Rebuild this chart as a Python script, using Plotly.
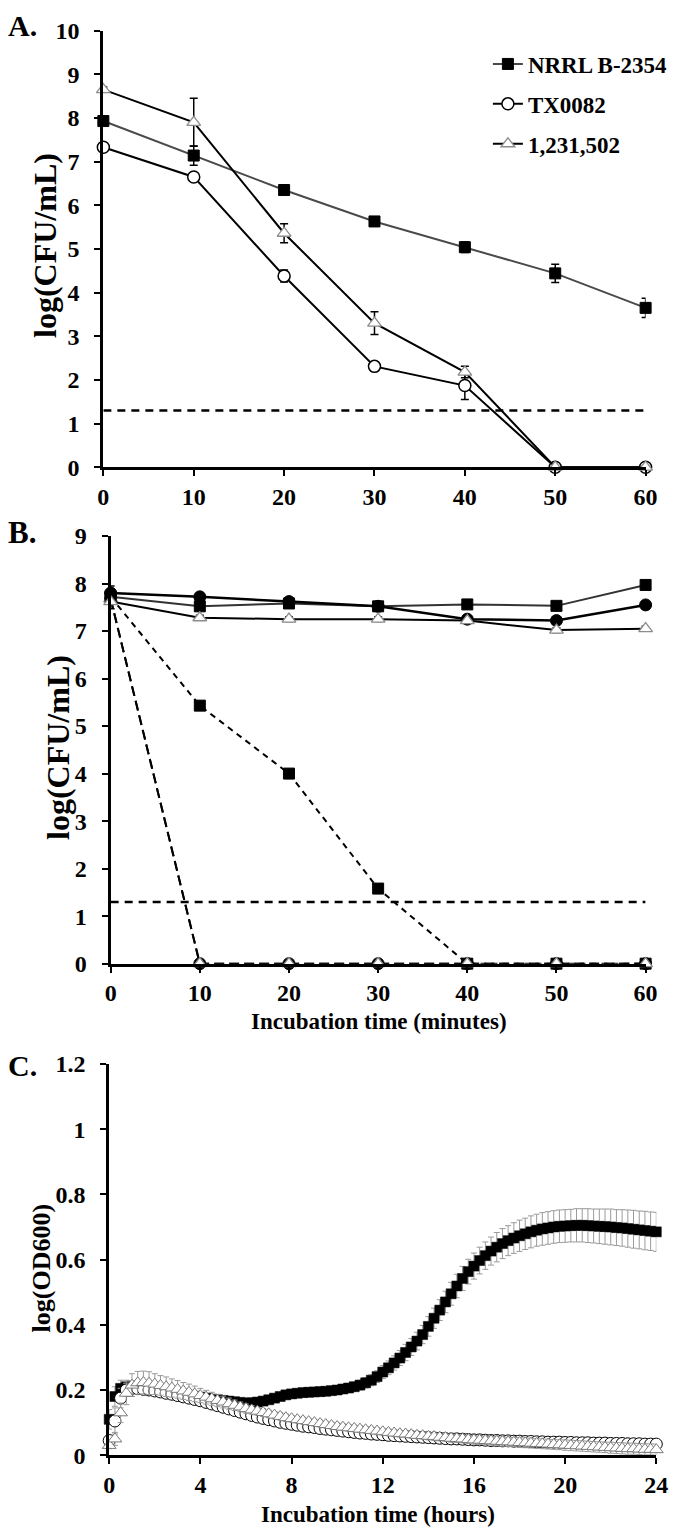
import plotly.graph_objects as go

W, H = 680, 1538
FONT = "Liberation Serif"

# ---------------- Panel A data ----------------
a_time = [0, 10, 20, 30, 40, 50, 60]
a_nrrl = [7.93, 7.14, 6.35, 5.63, 5.04, 4.44, 3.65]
a_nrrl_err = [0.08, 0.22, 0.06, 0.06, 0.12, 0.21, 0.22]
a_tx = [7.33, 6.65, 4.38, 2.31, 1.87, 0, 0]
a_tx_err = [0.08, 0.06, 0.14, 0.1, 0.32, 0, 0]
a_iso = [8.65, 7.9, 5.36, 3.3, 2.18, 0, 0]
a_iso_err = [0.06, 0.55, 0.22, 0.26, 0.13, 0, 0]
detection_limit = 1.3
limit_x = [0, 60]

series_names = ["NRRL B-2354", "TX0082", "1,231,502"]

# ---------------- Panel B data ----------------
b_time = [0, 10, 20, 30, 40, 50, 60]
b_nrrl_ctrl = [7.72, 7.52, 7.58, 7.52, 7.56, 7.53, 7.97]
b_tx_ctrl = [7.8, 7.72, 7.62, 7.52, 7.25, 7.22, 7.55]
b_iso_ctrl = [7.62, 7.28, 7.25, 7.25, 7.22, 7.02, 7.05]
b_ctrl_err = [0.15, 0.05, 0.05, 0.05, 0.06, 0.05, 0.05]
b_nrrl_trt = [7.72, 5.43, 4.0, 1.58, 0, 0, 0]
b_tx_trt = [7.68, 0, 0, 0, 0, 0, 0]
b_iso_trt = [7.68, 0, 0, 0, 0, 0, 0]

# ---------------- Panel C data ----------------
c_hours = [0, 0.25, 0.5, 0.75, 1, 1.25, 1.5, 1.75, 2, 2.25, 2.5, 2.75,
           3, 3.25, 3.5, 3.75, 4, 4.25, 4.5, 4.75, 5, 5.25, 5.5, 5.75,
           6, 6.25, 6.5, 6.75, 7, 7.25, 7.5, 7.75, 8, 8.25, 8.5, 8.75,
           9, 9.25, 9.5, 9.75, 10, 10.25, 10.5, 10.75, 11, 11.25, 11.5, 11.75,
           12, 12.25, 12.5, 12.75, 13, 13.25, 13.5, 13.75, 14, 14.25, 14.5, 14.75,
           15, 15.25, 15.5, 15.75, 16, 16.25, 16.5, 16.75, 17, 17.25, 17.5, 17.75,
           18, 18.25, 18.5, 18.75, 19, 19.25, 19.5, 19.75, 20, 20.25, 20.5, 20.75,
           21, 21.25, 21.5, 21.75, 22, 22.25, 22.5, 22.75, 23, 23.25, 23.5, 23.75, 24]

c_nrrl = [0.11, 0.18, 0.205, 0.21,
          0.212, 0.21, 0.207, 0.205,
          0.202, 0.2, 0.197, 0.194,
          0.19, 0.187, 0.184, 0.181,
          0.178, 0.175, 0.172, 0.17,
          0.168, 0.166, 0.164, 0.162,
          0.16, 0.161, 0.163, 0.166,
          0.17, 0.175, 0.18, 0.185,
          0.188, 0.19, 0.192, 0.193,
          0.194, 0.195, 0.196, 0.198,
          0.2, 0.203, 0.206, 0.21,
          0.215, 0.222, 0.23, 0.241,
          0.255, 0.268, 0.283, 0.298,
          0.315, 0.332, 0.35, 0.37,
          0.395, 0.42, 0.445, 0.47,
          0.495, 0.519, 0.542, 0.563,
          0.58, 0.597, 0.612, 0.626,
          0.638, 0.649, 0.658, 0.666,
          0.673, 0.679, 0.685, 0.69,
          0.694, 0.697, 0.7, 0.702,
          0.703, 0.704, 0.705, 0.705,
          0.704, 0.703, 0.702, 0.701,
          0.7, 0.698, 0.697, 0.695,
          0.693, 0.691, 0.689, 0.687,
          0.685]
c_nrrl_err = [0.03, 0.03, 0.025, 0.02,
              0.015, 0.012, 0.01, 0.01,
              0.01, 0.01, 0.01, 0.01,
              0.01, 0.01, 0.01, 0.01,
              0.01, 0.01, 0.01, 0.01,
              0.01, 0.01, 0.01, 0.01,
              0.01, 0.01, 0.01, 0.01,
              0.01, 0.01, 0.01, 0.01,
              0.01, 0.01, 0.01, 0.01,
              0.011, 0.011, 0.012, 0.012,
              0.013, 0.013, 0.014, 0.014,
              0.015, 0.016, 0.017, 0.018,
              0.02, 0.021, 0.022, 0.023,
              0.025, 0.026, 0.027, 0.028,
              0.03, 0.031, 0.032, 0.033,
              0.035, 0.036, 0.037, 0.038,
              0.04, 0.041, 0.042, 0.043,
              0.045, 0.046, 0.046, 0.047,
              0.048, 0.048, 0.049, 0.049,
              0.05, 0.05, 0.05, 0.05,
              0.05, 0.05, 0.051, 0.051,
              0.052, 0.052, 0.053, 0.054,
              0.055, 0.055, 0.056, 0.057,
              0.058, 0.058, 0.059, 0.059,
              0.06]

c_tx = [0.045, 0.105, 0.175, 0.2,
        0.205, 0.204, 0.202, 0.2,
        0.197, 0.194, 0.19, 0.187,
        0.183, 0.179, 0.175, 0.171,
        0.167, 0.162, 0.157, 0.152,
        0.147, 0.142, 0.137, 0.132,
        0.127, 0.122, 0.117, 0.113,
        0.109, 0.105, 0.101, 0.098,
        0.095, 0.092, 0.089, 0.087,
        0.085, 0.082, 0.08, 0.078,
        0.076, 0.074, 0.072, 0.07,
        0.068, 0.067, 0.065, 0.064,
        0.063, 0.061, 0.06, 0.059,
        0.058, 0.057, 0.056, 0.055,
        0.054, 0.053, 0.052, 0.051,
        0.05, 0.05, 0.049, 0.048,
        0.047, 0.047, 0.046, 0.045,
        0.045, 0.044, 0.044, 0.043,
        0.043, 0.042, 0.042, 0.041,
        0.041, 0.04, 0.04, 0.04,
        0.039, 0.039, 0.038, 0.038,
        0.038, 0.037, 0.037, 0.037,
        0.036, 0.036, 0.036, 0.035,
        0.035, 0.035, 0.034, 0.034,
        0.034]
c_tx_err = [0.01, 0.04, 0.03, 0.02,
            0.015, 0.012, 0.01, 0.01,
            0.01, 0.01, 0.01, 0.01,
            0.01, 0.01, 0.01, 0.01,
            0.008, 0.008, 0.008, 0.008,
            0.008, 0.008, 0.008, 0.008,
            0.006, 0.006, 0.006, 0.006,
            0.006, 0.006, 0.006, 0.006,
            0.005, 0.005, 0.005, 0.005,
            0.005, 0.005, 0.005, 0.005,
            0.005, 0.005, 0.005, 0.005,
            0.005, 0.005, 0.005, 0.005,
            0.005, 0.005, 0.005, 0.005,
            0.005, 0.005, 0.005, 0.005,
            0.005, 0.005, 0.005, 0.005,
            0.005, 0.005, 0.005, 0.005,
            0.005, 0.005, 0.005, 0.005,
            0.005, 0.005, 0.005, 0.005,
            0.005, 0.005, 0.005, 0.005,
            0.005, 0.005, 0.005, 0.005,
            0.005, 0.005, 0.005, 0.005,
            0.005, 0.005, 0.005, 0.005,
            0.005, 0.005, 0.005, 0.005,
            0.005, 0.005, 0.005, 0.005,
            0.005]

c_iso = [0.03, 0.05, 0.13, 0.19,
         0.215, 0.222, 0.223, 0.221,
         0.218, 0.214, 0.21, 0.206,
         0.202, 0.197, 0.193, 0.188,
         0.183, 0.178, 0.173, 0.168,
         0.163, 0.158, 0.153, 0.148,
         0.143, 0.139, 0.135, 0.131,
         0.127, 0.123, 0.119, 0.115,
         0.112, 0.109, 0.106, 0.103,
         0.1, 0.097, 0.094, 0.091,
         0.088, 0.086, 0.084, 0.082,
         0.08, 0.078, 0.076, 0.074,
         0.072, 0.07, 0.068, 0.066,
         0.065, 0.063, 0.061, 0.06,
         0.058, 0.057, 0.055, 0.054,
         0.052, 0.051, 0.05, 0.048,
         0.047, 0.046, 0.045, 0.044,
         0.043, 0.042, 0.041, 0.04,
         0.039, 0.038, 0.037, 0.036,
         0.035, 0.034, 0.033, 0.032,
         0.031, 0.03, 0.029, 0.028,
         0.027, 0.026, 0.025, 0.024,
         0.023, 0.022, 0.021, 0.02,
         0.02, 0.019, 0.018, 0.018,
         0.017]
c_iso_err = [0.01, 0.02, 0.03, 0.035,
             0.035, 0.035, 0.035, 0.035,
             0.032, 0.03, 0.03, 0.028,
             0.027, 0.026, 0.025, 0.024,
             0.022, 0.021, 0.02, 0.019,
             0.018, 0.017, 0.016, 0.015,
             0.014, 0.013, 0.012, 0.012,
             0.011, 0.011, 0.011, 0.011,
             0.01, 0.01, 0.01, 0.01,
             0.01, 0.01, 0.01, 0.01,
             0.01, 0.01, 0.01, 0.01,
             0.01, 0.01, 0.01, 0.01,
             0.01, 0.01, 0.01, 0.01,
             0.01, 0.01, 0.01, 0.01,
             0.011, 0.011, 0.011, 0.011,
             0.012, 0.012, 0.012, 0.012,
             0.013, 0.013, 0.013, 0.013,
             0.014, 0.014, 0.014, 0.014,
             0.015, 0.015, 0.015, 0.015,
             0.015, 0.015, 0.015, 0.015,
             0.016, 0.016, 0.016, 0.016,
             0.016, 0.016, 0.016, 0.016,
             0.017, 0.017, 0.017, 0.017,
             0.017, 0.017, 0.017, 0.017,
             0.017]

# ---------------- helpers ----------------
def px_x(x):
    return x / W

def px_y(y):
    return 1 - y / H

BLACK = "#000000"
GRAY_LINE = "#4a4a4a"
TRI_EDGE = "#8c8c8c"

sq_marker = dict(symbol="square", size=11, color=BLACK, line=dict(color=BLACK, width=1))
circ_open = dict(symbol="circle", size=12, color="white", line=dict(color=BLACK, width=1.5))
circ_fill = dict(symbol="circle", size=12, color=BLACK, line=dict(color=BLACK, width=1))
tri_open = dict(symbol="triangle-up", size=12, color="white", line=dict(color=TRI_EDGE, width=1.3))


def err(arr, color=BLACK, thick=1.5, width=4):
    return dict(type="data", array=arr, visible=True, color=color, thickness=thick, width=width)


fig = go.Figure()

# ---------- Panel A ----------
fig.add_trace(go.Scatter(x=limit_x, y=[detection_limit, detection_limit], mode="lines",
                         line=dict(color=BLACK, width=2.5, dash="8px,6px"),
                         showlegend=False, xaxis="x", yaxis="y", hoverinfo="skip"))
fig.add_trace(go.Scatter(x=a_time, y=a_nrrl, name=series_names[0], mode="lines+markers",
                         line=dict(color=GRAY_LINE, width=2), marker=sq_marker,
                         error_y=err(a_nrrl_err), cliponaxis=False,
                         xaxis="x", yaxis="y", legendgroup="g1"))
fig.add_trace(go.Scatter(x=a_time, y=a_tx, name=series_names[1], mode="lines+markers",
                         line=dict(color=BLACK, width=2), marker=circ_open,
                         error_y=err(a_tx_err), cliponaxis=False,
                         xaxis="x", yaxis="y", legendgroup="g2"))
fig.add_trace(go.Scatter(x=a_time, y=a_iso, name=series_names[2], mode="lines+markers",
                         line=dict(color=BLACK, width=2), marker=tri_open,
                         error_y=err(a_iso_err), cliponaxis=False,
                         xaxis="x", yaxis="y", legendgroup="g3"))

# ---------- Panel B ----------
fig.add_trace(go.Scatter(x=limit_x, y=[detection_limit, detection_limit], mode="lines",
                         line=dict(color=BLACK, width=2.5, dash="8px,6px"),
                         showlegend=False, xaxis="x2", yaxis="y2", hoverinfo="skip"))
# treated (dashed)
fig.add_trace(go.Scatter(x=b_time, y=b_nrrl_trt, mode="lines+markers",
                         line=dict(color=BLACK, width=2, dash="6px,5px"), marker=sq_marker,
                         cliponaxis=False, showlegend=False, xaxis="x2", yaxis="y2"))
fig.add_trace(go.Scatter(x=b_time, y=b_tx_trt, mode="lines+markers",
                         line=dict(color=BLACK, width=2, dash="10px,5px"), marker=circ_fill,
                         cliponaxis=False, showlegend=False, xaxis="x2", yaxis="y2"))
fig.add_trace(go.Scatter(x=b_time, y=b_iso_trt, mode="lines+markers",
                         line=dict(color=BLACK, width=2, dash="10px,5px"), marker=tri_open,
                         cliponaxis=False, showlegend=False, xaxis="x2", yaxis="y2"))
# control (solid)
fig.add_trace(go.Scatter(x=b_time, y=b_nrrl_ctrl, mode="lines+markers",
                         line=dict(color="#333333", width=2), marker=sq_marker,
                         error_y=err(b_ctrl_err), cliponaxis=False,
                         showlegend=False, xaxis="x2", yaxis="y2"))
fig.add_trace(go.Scatter(x=b_time, y=b_tx_ctrl, mode="lines+markers",
                         line=dict(color=BLACK, width=2.5), marker=circ_fill,
                         error_y=err(b_ctrl_err), cliponaxis=False,
                         showlegend=False, xaxis="x2", yaxis="y2"))
fig.add_trace(go.Scatter(x=b_time, y=b_iso_ctrl, mode="lines+markers",
                         line=dict(color=BLACK, width=2), marker=tri_open,
                         error_y=err(b_ctrl_err), cliponaxis=False,
                         showlegend=False, xaxis="x2", yaxis="y2"))

# ---------- Panel C ----------
fig.add_trace(go.Scatter(x=c_hours, y=c_nrrl, mode="markers",
                         marker=dict(symbol="square", size=10, color=BLACK, line=dict(color=BLACK, width=0.5)),
                         error_y=err(c_nrrl_err, color="#9a9a9a", thick=1, width=3),
                         cliponaxis=False, showlegend=False, xaxis="x3", yaxis="y3"))
fig.add_trace(go.Scatter(x=c_hours, y=c_tx, mode="markers",
                         marker=dict(symbol="circle", size=12, color="white", line=dict(color=BLACK, width=1)),
                         error_y=err(c_tx_err, color="#9a9a9a", thick=1, width=3),
                         cliponaxis=False, showlegend=False, xaxis="x3", yaxis="y3"))
fig.add_trace(go.Scatter(x=c_hours, y=c_iso, mode="markers",
                         marker=dict(symbol="triangle-up", size=12, color="white", line=dict(color="#7a7a7a", width=1)),
                         error_y=err(c_iso_err, color="#9a9a9a", thick=1, width=3),
                         cliponaxis=False, showlegend=False, xaxis="x3", yaxis="y3"))

# ---------- axes ----------
tickfont = dict(family=FONT, size=24, color=BLACK, weight="bold")
axis_common = dict(showline=True, linecolor=BLACK, linewidth=3, ticks="outside", ticklen=6,
                   tickwidth=2, tickcolor=BLACK, showgrid=False, zeroline=False,
                   tickfont=tickfont, fixedrange=True)

fig.update_layout(
    xaxis=dict(domain=[px_x(100), px_x(657)], anchor="y", range=[0, 60],
               tickvals=a_time, ticklabelstandoff=0, **axis_common),
    yaxis=dict(domain=[px_y(462), px_y(18)], anchor="x", range=[0, 10],
               tickvals=list(range(0, 11)), ticklabelstandoff=10, **axis_common),
    xaxis2=dict(domain=[px_x(107.5), px_x(657)], anchor="y2", range=[0, 60],
                tickvals=b_time, ticklabelstandoff=0, **axis_common),
    yaxis2=dict(domain=[px_y(967), px_y(532)], anchor="x2", range=[0, 9],
                tickvals=list(range(0, 10)), ticklabelstandoff=10, **axis_common),
    xaxis3=dict(domain=[px_x(106), px_x(668)], anchor="y3", range=[0, 24],
                tickvals=[0, 4, 8, 12, 16, 20, 24], ticklabelstandoff=0, **axis_common),
    yaxis3=dict(domain=[px_y(1467), px_y(1069)], anchor="x3", range=[0, 1.2],
                tickvals=[0, 0.2, 0.4, 0.6, 0.8, 1.0, 1.2],
                ticktext=["0", "0.2", "0.4", "0.6", "0.8", "1", "1.2"],
                ticklabelstandoff=10, **axis_common),
)

# ---------- legend ----------
fig.update_layout(
    showlegend=True,
    legend=dict(x=px_x(495), y=px_y(30), xanchor="left", yanchor="top",
                font=dict(family=FONT, size=23, color=BLACK, weight="bold"),
                bgcolor="rgba(0,0,0,0)", itemwidth=30, tracegroupgap=7,
                itemclick=False, itemdoubleclick=False),
)

# ---------- text annotations ----------
def label(text, x, y, size, angle=0, xanchor="center"):
    return dict(text=text, x=px_x(x), y=px_y(y), xref="paper", yref="paper",
                showarrow=False, textangle=angle, xanchor=xanchor, yanchor="middle",
                font=dict(family=FONT, size=size, color=BLACK, weight="bold"))

annotations = [
    label("A.", 0, 13, 30, xanchor="left"),
    label("B.", 0, 528, 31, xanchor="left"),
    label("C.", 0, 1071, 30, xanchor="left"),
    label("log(CFU/mL)", 40, 236, 32, angle=-90),
    label("log(CFU/mL)", 54, 747, 32, angle=-90),
    label("log(OD600)", 36, 1277, 26, angle=-90),
    label("Incubation time (minutes)", 383, 1026, 23),
    label("Incubation time (hours)", 382, 1527, 23),
]

fig.update_layout(
    width=W, height=H,
    margin=dict(l=0, r=0, t=0, b=0),
    paper_bgcolor="white", plot_bgcolor="white",
    font=dict(family=FONT, color=BLACK),
    annotations=annotations,
    hovermode=False,
)

fig.write_html("out.html", config={"displayModeBar": False},
               post_script="document.body.style.margin='0px';document.body.style.padding='0px';")
